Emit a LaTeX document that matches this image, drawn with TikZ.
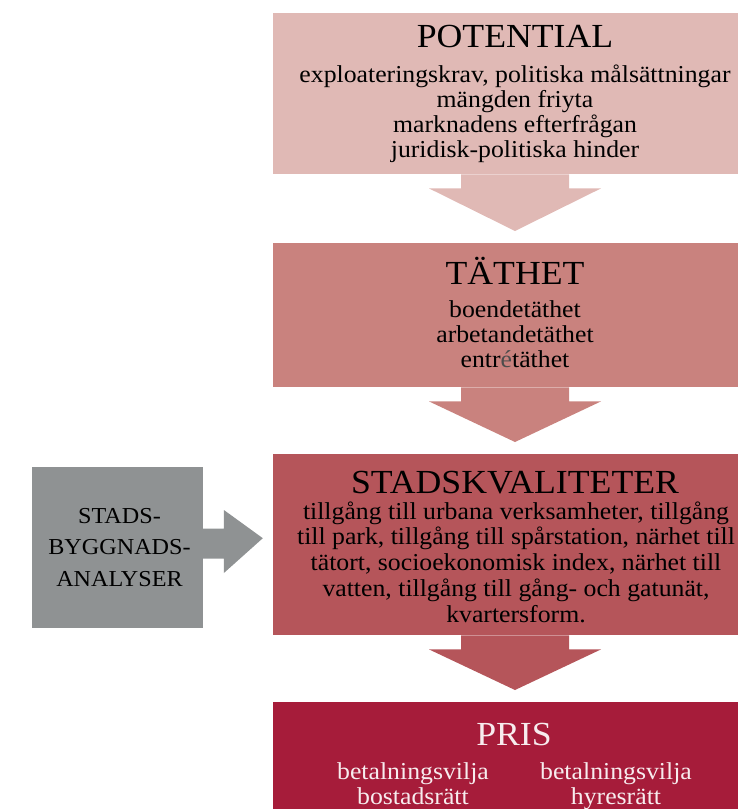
\documentclass[tikz,border=0pt]{standalone}
\usepackage{fontspec}
\setmainfont{Liberation Serif}[FakeStretch=1.06]
\usetikzlibrary{positioning,calc}

\definecolor{potcol}{HTML}{E0B9B5}
\definecolor{taetcol}{HTML}{C9827E}
\definecolor{kvalcol}{HTML}{B5555A}
\definecolor{priscol}{HTML}{A61C3A}
\definecolor{analyscol}{HTML}{8F9293}
\definecolor{pristext}{HTML}{F7ECEE}

\tikzset{
  box/.style={rectangle, minimum width=484pt, inner sep=0pt, anchor=north},
  headline/.style={font=\fontsize{33.7}{34}\selectfont, anchor=base},
  lines/.style={font=\fontsize{24.3}{25}\selectfont, align=center, anchor=base},
}

% filled block arrow from one box down to the next
\newcommand\flowarrow[3]{%
  \fill[#3] ($(#1.south)+(-54,0)$) -- ($(#1.south)+(-54,14)$)
    -- ($(#1.south)+(-86,14)$) -- ($(#2.north)+(0,-12)$)
    -- ($(#1.south)+(86,14)$) -- ($(#1.south)+(54,14)$)
    -- ($(#1.south)+(54,0)$) -- cycle;}

\begin{document}
\begin{tikzpicture}[x=1pt, y=-1pt]
  \useasboundingbox (0,0) rectangle (738,809);
  \clip (0,0) rectangle (738,809);

  % the four boxes
  \node[box, fill=potcol, minimum height=161pt] (pot) at (515,13) {};
  \node[box, fill=taetcol, minimum height=144pt] (taet) at (515,243) {};
  \node[box, fill=kvalcol, minimum height=181pt] (kval) at (515,454) {};
  \node[box, fill=priscol, minimum height=130pt] (pris) at (515,702) {};
  \node[rectangle, fill=analyscol, minimum width=171pt, minimum height=161pt,
    inner sep=0pt] (analys) at (117.2,547.5) {};

  % texts (multi-line nodes sit on their last line)
  \node[headline] (pottitle) at (515,47) {POTENTIAL};
  \node[lines] (pottext) at (515,157) {exploateringskrav, politiska målsättningar\\
    mängden friyta\\ marknadens efterfrågan\\ juridisk-politiska hinder};

  \node[headline] (taettitle) at (515,284) {TÄTHET};
  \node[lines] (taettext) at (515,367) {boendetäthet\\ arbetandetäthet\\
    entr{\color{black!70}é}täthet};

  \node[headline] (kvaltitle) at (515,493) {STADSKVALITETER};
  \node[lines, font=\fontsize{24.3}{25.75}\selectfont] (kvaltext) at (516,622)
    {tillgång till urbana verksamheter, tillgång\\
    till park, tillgång till spårstation, närhet till\\
    tätort, socioekonomisk index, närhet till\\
    vatten, tillgång till gång- och gatunät,\\ kvartersform.};

  \node[headline, text=pristext] (pristitle) at (514,745) {PRIS};
  \node[lines, text=pristext] (prisleft) at (413,804) {betalningsvilja\\ bostadsrätt};
  \node[lines, text=pristext] (prisright) at (616,804) {betalningsvilja\\ hyresrätt};

  \node[lines, font=\fontsize{22.8}{31.5}\selectfont] (analystext) at (119.5,586)
    {STADS-\\ BYGGNADS-\\ ANALYSER};

  % arrows
  \flowarrow{pot}{taet}{potcol}
  \flowarrow{taet}{kval}{taetcol}
  \flowarrow{kval}{pris}{kvalcol}
  \fill[analyscol] ($(analys.east)+(0,-19)$) -- ($(analys.east)+(21,-19)$)
    -- ($(analys.east)+(21,-37.5)$) -- ($(kval.west)+(-10,-6.5)$)
    -- ($(analys.east)+(21,25.5)$) -- ($(analys.east)+(21,11)$)
    -- ($(analys.east)+(0,11)$) -- cycle;
\end{tikzpicture}
\end{document}
